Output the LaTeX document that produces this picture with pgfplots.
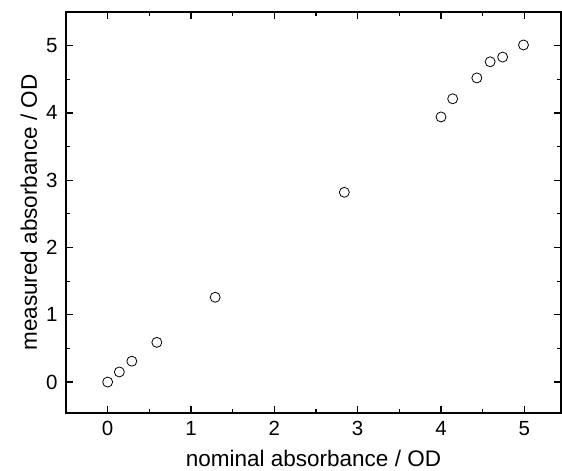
\documentclass[border=0pt]{standalone}
\usepackage{pgfplots}
\pgfplotsset{compat=1.18}
\usepackage{fontspec}
\setmainfont{Liberation Sans}
\usetikzlibrary{calc}
\begin{document}
\begin{tikzpicture}
\begin{axis}[name=ax, scale only axis, width=495pt, height=401pt,
  xmin=-0.5, xmax=5.44, ymin=-0.46, ymax=5.5,
  xtick={0,...,5}, ytick={0,...,5},
  minor tick num=1,
  tick align=inside,
  major tick length=7pt, minor tick length=4pt,
  axis line style={line width=1.6pt},
  every tick/.style={black, line width=1.2pt},
  xticklabel style={font=\fontsize{20.5}{22}\selectfont, yshift=-5pt},
  yticklabel style={font=\fontsize{20.5}{22}\selectfont, xshift=-5pt},
  /pgf/number format/assume math mode=true,
  xlabel={nominal absorbance / OD}, ylabel={measured absorbance / OD},
  xlabel style={font=\fontsize{22.5}{24}\selectfont, at={(axis description cs:0.5,-0.113)}, anchor=center},
  ylabel style={font=\fontsize{22.5}{24}\selectfont, at={(axis description cs:-0.075,0.5)}, anchor=center},
]
\addplot[only marks, mark=o, mark size=5pt, mark options={line width=0.8pt, black}] coordinates {
(0,0) (0.14,0.15) (0.29,0.31) (0.59,0.59) (1.29,1.26) (2.84,2.82)
(4.00,3.94) (4.14,4.21) (4.43,4.52) (4.59,4.76) (4.74,4.83) (4.99,5.01)
};
\end{axis}
\pgfresetboundingbox
\path ($(ax.south west)+(-66pt,-58pt)$) rectangle ($(ax.north east)+(1pt,12pt)$);
\end{tikzpicture}
\end{document}
